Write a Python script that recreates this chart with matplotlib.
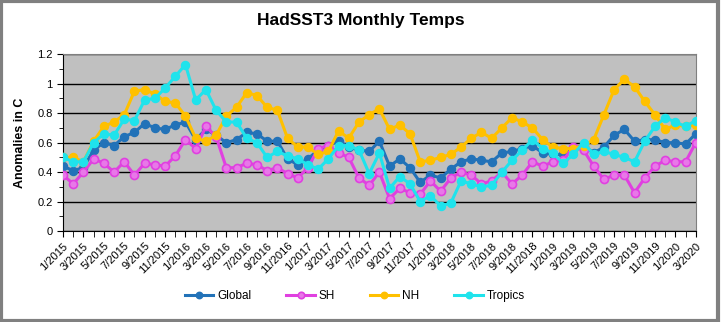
import numpy as np
import matplotlib
matplotlib.use("Agg")
import matplotlib.pyplot as plt
from matplotlib.patches import Rectangle
from matplotlib.ticker import MultipleLocator

plt.rcParams['font.family'] = ['Liberation Sans', 'DejaVu Sans']

# monthly labels 1/2015 .. 3/2020
months = ["%d/%d" % (m, y) for y in range(2015, 2021) for m in range(1, 13)][:63]

glob = [0.44, 0.41, 0.43, 0.55, 0.60, 0.58, 0.64, 0.67, 0.73, 0.70, 0.69, 0.72,
        0.74, 0.62, 0.69, 0.65, 0.60, 0.62, 0.67, 0.66, 0.61, 0.61, 0.49, 0.45,
        0.49, 0.55, 0.58, 0.61, 0.57, 0.55, 0.54, 0.61, 0.44, 0.49, 0.43, 0.33,
        0.38, 0.36, 0.42, 0.47, 0.49, 0.48, 0.47, 0.53, 0.54, 0.56, 0.58, 0.53,
        0.52, 0.52, 0.56, 0.58, 0.53, 0.57, 0.65, 0.69, 0.61, 0.62, 0.62, 0.60,
        0.60, 0.59, 0.66]
sh = [0.38, 0.32, 0.40, 0.49, 0.46, 0.40, 0.47, 0.38, 0.46, 0.45, 0.44, 0.51,
      0.62, 0.56, 0.71, 0.64, 0.43, 0.43, 0.46, 0.45, 0.41, 0.43, 0.39, 0.36,
      0.43, 0.56, 0.58, 0.53, 0.50, 0.36, 0.31, 0.40, 0.22, 0.29, 0.26, 0.25,
      0.34, 0.27, 0.36, 0.40, 0.38, 0.32, 0.34, 0.40, 0.32, 0.38, 0.47, 0.44,
      0.47, 0.48, 0.57, 0.55, 0.44, 0.35, 0.38, 0.38, 0.26, 0.36, 0.44, 0.48,
      0.47, 0.47, 0.60]
nh = [0.50, 0.50, 0.47, 0.61, 0.71, 0.74, 0.79, 0.95, 0.96, 0.93, 0.88, 0.87,
      0.78, 0.63, 0.61, 0.65, 0.78, 0.84, 0.94, 0.92, 0.84, 0.82, 0.63, 0.57,
      0.57, 0.52, 0.54, 0.68, 0.63, 0.74, 0.79, 0.83, 0.69, 0.72, 0.66, 0.47,
      0.48, 0.50, 0.52, 0.57, 0.63, 0.67, 0.63, 0.70, 0.77, 0.74, 0.70, 0.62,
      0.57, 0.56, 0.56, 0.58, 0.62, 0.79, 0.96, 1.03, 0.98, 0.88, 0.79, 0.69,
      0.72, 0.71, 0.72]
tropics = [0.50, 0.47, 0.47, 0.60, 0.66, 0.65, 0.76, 0.75, 0.89, 0.90, 0.97, 1.05,
           1.13, 0.89, 0.96, 0.82, 0.74, 0.74, 0.63, 0.60, 0.50, 0.54, 0.51, 0.49,
           0.45, 0.42, 0.49, 0.58, 0.58, 0.55, 0.39, 0.53, 0.29, 0.37, 0.32, 0.20,
           0.24, 0.17, 0.19, 0.34, 0.32, 0.30, 0.31, 0.40, 0.48, 0.55, 0.62, 0.56,
           0.53, 0.46, 0.52, 0.60, 0.52, 0.54, 0.52, 0.50, 0.47, 0.61, 0.71, 0.77,
           0.74, 0.71, 0.75]

yticks = [0, 0.2, 0.4, 0.6, 0.8, 1.0, 1.2]
ylabels = ['0', '0.2', '0.4', '0.6', '0.8', '1', '1.2']

x = np.arange(len(months))

fig = plt.figure(figsize=(7.21, 3.22), dpi=100)
fig.patches.append(Rectangle((0.002, 0.004), 0.994, 0.992, transform=fig.transFigure,
                             fill=False, edgecolor='#808080', linewidth=3))
ax = fig.add_axes([0.0874, 0.2826, 0.8776, 0.5488])
ax.set_facecolor('#C0C0C0')

ax.plot(x, glob, '-o', color='#2272B8', lw=2.2, ms=5.8, label='Global', zorder=3)
ax.plot(x, sh, '-o', color='#E040E0', mfc='#E878E8', mec='#E040E0', mew=1.2,
        lw=2.2, ms=5.8, label='SH', zorder=3)
ax.plot(x, nh, '-o', color='#FFC000', lw=2.2, ms=5.8, label='NH', zorder=3)
ax.plot(x, tropics, '-o', color='#1FE3EC', lw=2.2, ms=5.8, label='Tropics', zorder=3)

ax.set_xlim(0, len(months) - 1)
ax.set_ylim(0, 1.2)
ax.set_yticks(yticks, ylabels)
ax.yaxis.set_minor_locator(MultipleLocator(0.1))
ax.grid(axis='y', color='black', linewidth=1, zorder=1)
ax.set_axisbelow(True)

ax.set_xticks(x, minor=True)
ax.set_xticks(x[::2], months[::2], rotation=45, ha='right', rotation_mode='anchor')
ax.tick_params(axis='x', which='both', length=4, direction='out', labelsize=8, pad=3)
ax.tick_params(axis='y', which='major', length=4, labelsize=8)
ax.tick_params(axis='y', which='minor', length=3)

for side in ['top', 'right']:
    ax.spines[side].set_color('#808080')
for side in ['left', 'bottom']:
    ax.spines[side].set_color('black')

ax.set_ylabel('Anomalies in C', fontsize=9, fontweight='bold', labelpad=8)
fig.text(0.5, 0.935, 'HadSST3 Monthly Temps', ha='center', va='center',
         fontsize=12.5, fontweight='bold')

fig.legend(loc='center', bbox_to_anchor=(0.492, 0.08), ncol=4, frameon=False,
           fontsize=8.5, columnspacing=3.0, handlelength=2.4, handletextpad=0.3,
           markerscale=0.8)

fig.savefig('out.png', dpi=100)
